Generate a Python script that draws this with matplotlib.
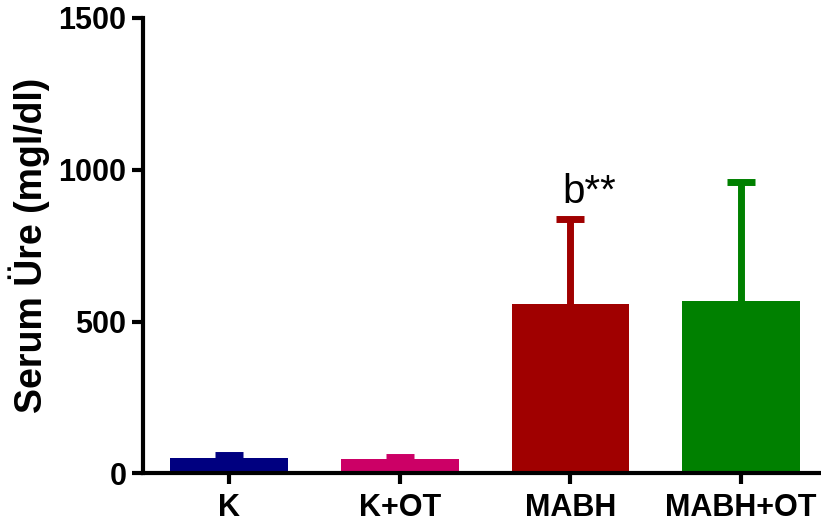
import numpy as np
import matplotlib
matplotlib.use("Agg")
import matplotlib.pyplot as plt

plt.rcParams['font.family'] = ['Liberation Sans', 'DejaVu Sans']

groups = ['K', 'K+OT', 'MABH', 'MABH+OT']
means = [52, 48, 557, 569]
errs = [10, 7, 280, 392]
colors = ['#000080', '#CC0066', '#A00000', '#008000']

fig = plt.figure(figsize=(8.21, 5.29), dpi=100)
ax = fig.add_axes([0.1736, 0.105, 0.8264, 0.861])

x = np.arange(len(groups))
ax.bar(x, means, width=0.69, color=colors, zorder=2)
for xi, m, e, c in zip(x, means, errs, colors):
    eb = ax.errorbar(xi, m, yerr=[[0], [e]], fmt='none', ecolor=c,
                     elinewidth=5, capsize=10, capthick=5, zorder=1)
    # only the upper cap is wanted
    eb[1][0].set_visible(False)

# significance mark
ax.text(2 - 0.05, 891, 'b**', fontsize=29, ha='left', va='baseline')

ax.set_xlim(-0.507, 3.468)
ax.set_ylim(0, 1500)
ax.set_yticks([0, 500, 1000, 1500])
ax.set_xticks(x)
ax.set_xticklabels(groups, fontsize=22, fontweight='bold')
for lab in ax.get_yticklabels():
    lab.set_fontsize(22)
    lab.set_fontweight('bold')

ax.set_ylabel('Serum Üre (mgl/dl)', fontsize=27, fontweight='bold')
ax.yaxis.set_label_coords(-0.136, 0.5)

for s in ['top', 'right']:
    ax.spines[s].set_visible(False)
for s in ['left', 'bottom']:
    ax.spines[s].set_linewidth(3)
ax.tick_params(axis='both', width=3, length=8)
ax.tick_params(axis='y', pad=3.5)
ax.tick_params(axis='x', pad=6)

fig.savefig('out.png', dpi=100)
